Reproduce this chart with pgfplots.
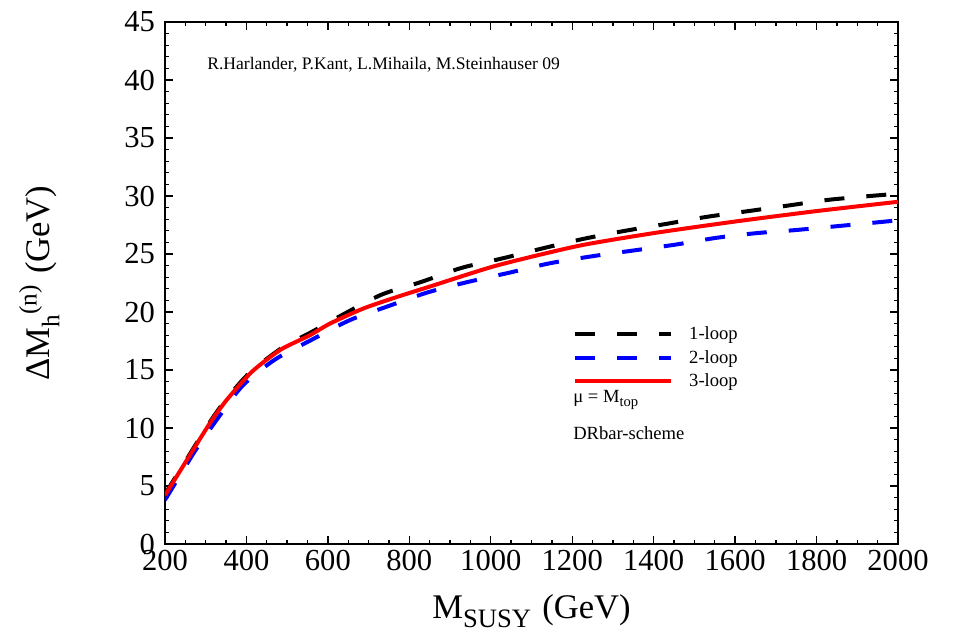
\documentclass[border=0pt]{standalone}
\usepackage{fontspec}
\setmainfont{Liberation Serif}
\usepackage{pgfplots}
\pgfplotsset{compat=1.18}
\begin{document}
\begin{tikzpicture}
\begin{axis}[
  name=ax,
  scale only axis,
  width=549.75bp, height=391.5bp,
  xmin=200, xmax=2000, ymin=0, ymax=45,
  xtick={200,400,...,2000},
  ytick={0,5,...,45},
  minor x tick num=3,
  minor y tick num=4,
  tick align=inside,
  major tick length=6bp,
  minor tick length=3bp,
  axis line style={line width=1.5bp},
  every tick/.style={black, line width=1bp},
  /pgf/number format/assume math mode=true,
  /pgf/number format/1000 sep={},
  tick label style={font=\fontsize{23}{23}\selectfont},
  xticklabel style={yshift=-1bp},
  yticklabel style={xshift=-4bp},
  xlabel={M\raisebox{-7bp}{\fontsize{20}{20}\selectfont SUSY}\hspace{2bp} (GeV)},
  ylabel={ΔM\raisebox{-7bp}{\fontsize{19}{19}\selectfont h}\raisebox{10bp}{\fontsize{19}{19}\selectfont (n)}\hspace{2bp} (GeV)},
  label style={font=\fontsize{26}{28}\selectfont},
  xlabel style={at={(axis description cs:0.5,-0.1418)}, anchor=base},
  ylabel style={at={(axis description cs:-0.1569,0.5)}, anchor=base},
  legend style={at={(rel axis cs:0.5566,0.4215)}, anchor=north west, draw=none, fill=none,
    inner sep=0pt, font=\fontsize{14}{17}\selectfont, row sep=2.5bp,
    /tikz/every odd column/.append style={column sep=10bp}},
  legend cell align=left,
  legend image code/.code={\draw[#1] (0bp,0bp) -- (72bp,0bp);},
]
\addplot[black, line width=3bp, dash pattern=on 15bp off 16.5bp, smooth, tension=0.5] coordinates {
(200,4.3)(253,7.3)(310,10.5)(351,12.5)(409,14.8)(491,17.0)(556,18.2)(638,19.8)(732,21.5)(830,22.6)(928,23.8)(1026,24.6)(1129,25.5)(1227,26.3)(1330,27.0)(1432,27.6)(1530,28.2)(1633,28.7)(1735,29.2)(1837,29.7)(2000,30.2)
};
\addlegendentry{1-loop}
\addplot[blue, line width=3bp, dash pattern=on 15bp off 16.5bp, smooth, tension=0.5] coordinates {
(200,3.8)(240,6.1)(278,8.25)(335,11.1)(392,13.7)(470,15.9)(560,17.6)(654,19.3)(748,20.5)(846,21.7)(945,22.6)(1047,23.4)(1145,24.2)(1248,24.8)(1350,25.3)(1452,25.8)(1555,26.4)(1653,26.8)(1760,27.1)(2000,27.9)
};
\addlegendentry{2-loop}
\addplot[red, line width=3bp, smooth, tension=0.4] coordinates {
(200,4.2)(253,7.2)(310,10.4)(351,12.4)(409,14.7)(450,15.9)(491,16.9)(556,18.0)(605,19.0)(687,20.3)(770,21.3)(851,22.2)(1014,24.0)(1215,25.7)(1400,26.8)(1600,27.8)(1800,28.7)(2000,29.5)
};
\addlegendentry{3-loop}
\node[anchor=west, font=\fontsize{13.25}{16}\selectfont, inner sep=0pt] at (rel axis cs:0.0573,0.9176) {R.Harlander, P.Kant, L.Mihaila, M.Steinhauser 09};
\node[anchor=west, font=\fontsize{14}{17}\selectfont, inner sep=0pt] at (rel axis cs:0.5566,0.2759) {μ = M\raisebox{-3bp}{\fontsize{11}{11}\selectfont top}};
\node[anchor=west, font=\fontsize{14}{17}\selectfont, inner sep=0pt] at (rel axis cs:0.5566,0.2126) {DRbar-scheme};
\end{axis}
\pgfresetboundingbox
\path[use as bounding box] ([shift={(-123.75bp,-67.5bp)}]ax.south west) rectangle ([shift={(41.25bp,16.5bp)}]ax.north east);
\end{tikzpicture}
\end{document}
